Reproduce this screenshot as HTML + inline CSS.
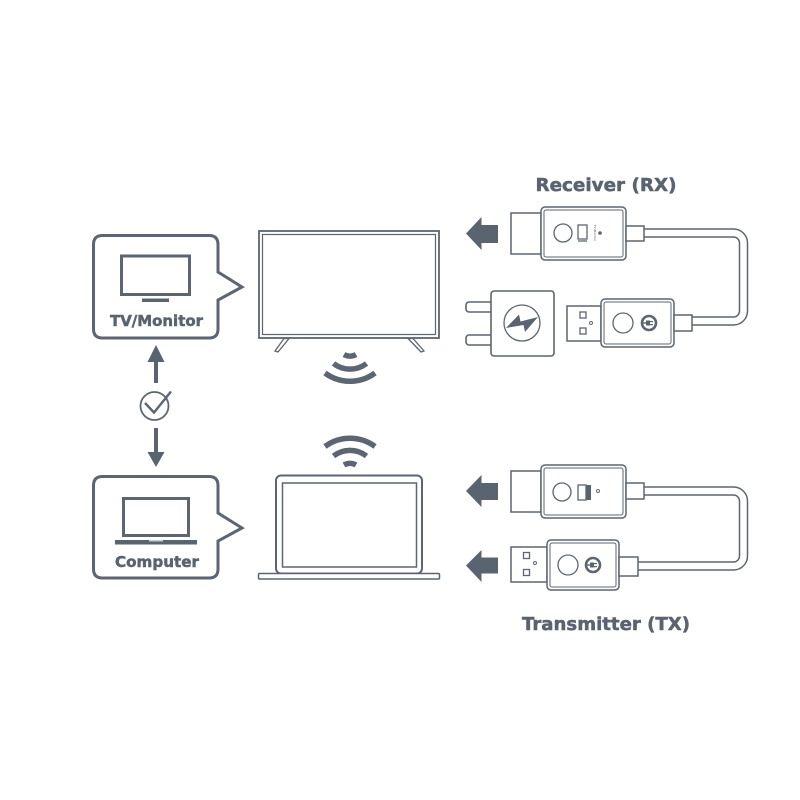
<!DOCTYPE html>
<html><head><meta charset="utf-8"><style>
html,body{margin:0;padding:0;background:#fff;}
svg{display:block;}
text{font-family:"DejaVu Sans","Liberation Sans",sans-serif;font-weight:bold;fill:#5a6370;}
.lbl{stroke:#5a6370;stroke-width:0.5;}
</style></head><body>
<svg width="800" height="800" viewBox="0 0 800 800" xmlns="http://www.w3.org/2000/svg">
<rect width="800" height="800" fill="#fff"/>
<g fill="none" stroke="#5c6571">
<!-- TV/Monitor box -->
<path d="M102.5,235.5 H209 Q218,235.5 218,244.5 V272 L242,287 L218,300 V329 Q218,338 209,338 H102.5 Q93.5,338 93.5,329 V244.5 Q93.5,235.5 102.5,235.5 Z" stroke-width="3"/>
<rect x="121.5" y="256" width="68" height="38.5" stroke-width="3"/>
<!-- Computer box -->
<path d="M102.5,476.5 H209 Q218,476.5 218,485.5 V513 L242,528 L218,541 V569 Q218,578 209,578 H102.5 Q93.5,578 93.5,569 V485.5 Q93.5,476.5 102.5,476.5 Z" stroke-width="3"/>
<rect x="123.5" y="498.5" width="65" height="37" stroke-width="3"/>
<!-- check circle -->
<circle cx="154.5" cy="406" r="14" stroke-width="1.8"/>
<polyline points="145,403 154,412.5 171,391.5" stroke-width="2.4"/>
<!-- TV -->
<rect x="259" y="231" width="180" height="107" stroke-width="1.8"/>
<rect x="262.5" y="234.5" width="173" height="100" stroke-width="1.2"/>
<polygon points="284,338.5 289,338.5 278,352 275,351" stroke-width="1.3" fill="#fff"/>
<polygon points="408,338.5 413,338.5 424,351 421,352" stroke-width="1.3" fill="#fff"/>
<!-- wifi under TV -->
<path d="M344,354.5 A12 12 0 0 0 356,354.5" stroke-width="5.5"/>
<path d="M333.5,363.5 A27 27 0 0 0 366.5,363.5" stroke-width="5.5"/>
<path d="M325,373 A42 42 0 0 0 375,373" stroke-width="5.5"/>
<!-- wifi above laptop -->
<path d="M325,446.5 A42 42 0 0 1 375,446.5" stroke-width="5.5"/>
<path d="M333.5,456 A27 27 0 0 1 366.5,456" stroke-width="5.5"/>
<path d="M344,465 A12 12 0 0 1 356,465" stroke-width="5.5"/>
<!-- Laptop -->
<rect x="276" y="475.5" width="146" height="98" rx="5" stroke-width="2"/>
<rect x="282.5" y="483" width="134" height="84" stroke-width="1.5"/>
<rect x="258.5" y="573.5" width="181" height="5.5" rx="1" stroke-width="1.5" fill="#fff"/>

<!-- cables -->
<path d="M644,233 H733.5 A10 10 0 0 1 743.5,243 V311 A10 10 0 0 1 733.5,321 H692" stroke-width="9.5"/>
<path d="M644,233 H733.5 A10 10 0 0 1 743.5,243 V311 A10 10 0 0 1 733.5,321 H692" stroke-width="6.5" stroke="#fff"/>
<path d="M644,491 H733.5 A10 10 0 0 1 743.5,501 V556 A10 10 0 0 1 733.5,566 H638" stroke-width="9.5"/>
<path d="M644,491 H733.5 A10 10 0 0 1 743.5,501 V556 A10 10 0 0 1 733.5,566 H638" stroke-width="6.5" stroke="#fff"/>

<!-- RX HDMI dongle -->
<g stroke-width="1.5">
<rect x="511" y="213" width="30" height="41" fill="#fff"/>
<rect x="541" y="207" width="85" height="53" rx="4" fill="#fff"/>
<rect x="544" y="210" width="79" height="47" rx="2" stroke-width="1"/>
<rect x="626" y="226" width="18" height="15" fill="#fff"/>
<circle cx="563" cy="233" r="9" stroke-width="1.3"/>
<rect x="578" y="225" width="9" height="14" stroke-width="1.3"/>
<line x1="578" y1="241" x2="587" y2="241" stroke-width="1.3"/>
</g>
<!-- RX USB dongle -->
<g stroke-width="1.5">
<rect x="567" y="306" width="34" height="35" fill="#fff"/>
<rect x="580" y="312" width="6" height="6" stroke-width="1.3"/>
<rect x="580" y="328" width="6" height="6" stroke-width="1.3"/>
<circle cx="591" cy="323" r="1.5" stroke-width="0.9"/>
<rect x="601" y="299" width="73" height="48" rx="4" fill="#fff"/>
<rect x="604" y="302" width="67" height="42" rx="2" stroke-width="1"/>
<rect x="674" y="315" width="18" height="16" fill="#fff"/>
<circle cx="623" cy="323" r="10" stroke-width="1.3"/>
<circle cx="649" cy="323" r="7" stroke-width="2.6"/>
</g>
<!-- charger -->
<g stroke-width="1.6">
<rect x="466" y="302" width="27" height="10" rx="3" fill="#fff"/>
<rect x="466" y="335" width="27" height="10" rx="3" fill="#fff"/>
<rect x="491" y="291" width="63" height="65" rx="3" fill="#fff"/>
<circle cx="522" cy="323" r="18" stroke-width="1.3"/>
</g>
<!-- TX HDMI dongle -->
<g stroke-width="1.5">
<rect x="511" y="471" width="30" height="41" fill="#fff"/>
<rect x="541" y="465" width="85" height="53" rx="4" fill="#fff"/>
<rect x="544" y="468" width="79" height="47" rx="2" stroke-width="1"/>
<rect x="626" y="483" width="18" height="16" fill="#fff"/>
<circle cx="562" cy="492" r="9" stroke-width="1.3"/>
<rect x="578" y="485" width="8" height="15" stroke-width="1.3"/>
<circle cx="598" cy="491" r="1.5" stroke-width="0.9"/>
</g>
<!-- TX USB dongle -->
<g stroke-width="1.5">
<rect x="511" y="547" width="36" height="35" fill="#fff"/>
<rect x="523.5" y="552.5" width="6" height="6" stroke-width="1.3"/>
<rect x="523.5" y="569.5" width="6" height="6" stroke-width="1.3"/>
<circle cx="535" cy="563" r="1.5" stroke-width="0.9"/>
<rect x="547" y="540" width="72" height="50" rx="4" fill="#fff"/>
<rect x="550" y="543" width="66" height="44" rx="2" stroke-width="1"/>
<rect x="619" y="557" width="19" height="19" fill="#fff"/>
<circle cx="568" cy="565" r="10" stroke-width="1.3"/>
<circle cx="593" cy="565" r="7" stroke-width="2.6"/>
</g>
</g>

<g fill="#5a6470">
<!-- monitor stand, laptop base -->
<rect x="142" y="298.5" width="27" height="3.5"/>
<rect x="115" y="540" width="82" height="4.5"/>
<rect x="149" y="540" width="14" height="1.5" fill="#c8ccd1"/>
<!-- up/down arrows -->
<polygon points="156,345 164.5,362 147.5,362"/>
<rect x="154" y="361" width="4" height="22"/>
<rect x="154" y="428" width="4" height="25"/>
<polygon points="156,467 164.5,452 147.5,452"/>
<!-- big left arrows -->
<polygon points="466,233.5 481.5,217 481.5,225 498,225 498,243 481.5,243 481.5,250"/>
<polygon points="466,491 481.5,475 481.5,483 498,483 498,500 481.5,500 481.5,507"/>
<polygon points="466,565.5 481.5,550 481.5,557.5 498,557.5 498,573.5 481.5,573.5 481.5,582"/>
<!-- bolt -->
<polygon points="506,328 519,314.5 520.5,321.5 538,317 525,332 523.5,325"/>
<!-- dot RX -->
<circle cx="600" cy="233" r="1.8"/>
<!-- TX icon striped -->
<rect x="586" y="485" width="5" height="15"/>
<!-- power plugs -->
<rect x="646" y="320.5" width="4" height="5"/>
<rect x="650" y="321" width="3" height="1.2"/>
<rect x="650" y="324" width="3" height="1.2"/>
<rect x="643" y="322.3" width="3" height="1.4"/>
<rect x="590" y="562.5" width="4" height="5"/>
<rect x="594" y="563" width="3" height="1.2"/>
<rect x="594" y="566" width="3" height="1.2"/>
<rect x="587" y="564.3" width="3" height="1.4"/>
</g>

<text x="594" y="233" font-size="3" text-anchor="middle" transform="rotate(90 594 233)" style="font-weight:normal">TV/Monitor</text>

<text class="lbl" x="156.5" y="326" font-size="15" text-anchor="middle" textLength="93" lengthAdjust="spacingAndGlyphs">TV/Monitor</text>
<text class="lbl" x="157" y="567" font-size="15" text-anchor="middle" textLength="84" lengthAdjust="spacingAndGlyphs">Computer</text>
<text class="lbl" x="606" y="191" font-size="18" text-anchor="middle" textLength="141" lengthAdjust="spacingAndGlyphs">Receiver (RX)</text>
<text class="lbl" x="606" y="630" font-size="18" text-anchor="middle" textLength="168" lengthAdjust="spacingAndGlyphs">Transmitter (TX)</text>
</svg>
</body></html>
